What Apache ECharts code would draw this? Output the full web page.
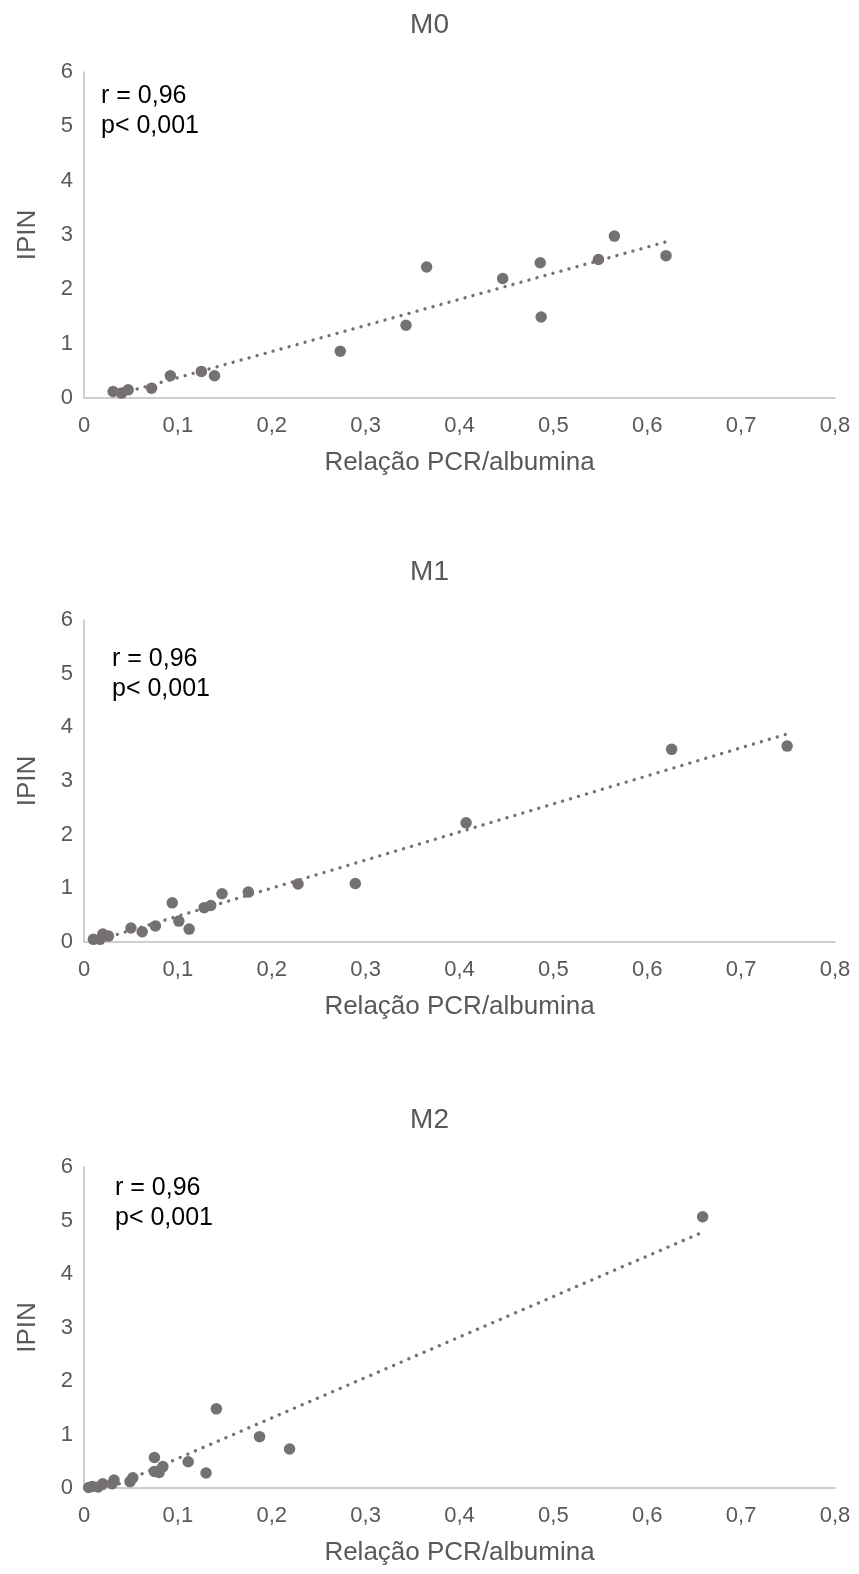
<!DOCTYPE html>
<html>
<head>
<meta charset="utf-8">
<script src="https://cdn.jsdelivr.net/npm/echarts@6/dist/echarts.min.js"></script>
<style>
  html, body { margin: 0; padding: 0; background: #fff; }
  #chart { width: 859px; height: 1574px; }
</style>
</head>
<body>
<div id="chart"></div>
<script>
// ---- data ----
const panelTitles = ['M0', 'M1', 'M2'];
const xAxisTitle = 'Relação PCR/albumina';
const yAxisTitle = 'IPIN';
const annotationLines = ['r = 0,96', 'p< 0,001'];
const xTickLabels = ['0', '0,1', '0,2', '0,3', '0,4', '0,5', '0,6', '0,7', '0,8'];
const yTickLabels = ['0', '1', '2', '3', '4', '5', '6'];

const m0X = [0.031, 0.040, 0.047, 0.072, 0.092, 0.125, 0.139, 0.273, 0.343, 0.365, 0.446, 0.486, 0.487, 0.548, 0.565, 0.620];
const m0Y = [0.12, 0.09, 0.15, 0.18, 0.41, 0.49, 0.41, 0.86, 1.34, 2.41, 2.20, 2.49, 1.49, 2.55, 2.98, 2.62];

const m1X = [0.010, 0.017, 0.020, 0.026, 0.050, 0.062, 0.076, 0.094, 0.101, 0.112, 0.128, 0.135, 0.147, 0.175, 0.228, 0.289, 0.407, 0.626, 0.749];
const m1Y = [0.05, 0.05, 0.15, 0.11, 0.26, 0.19, 0.30, 0.73, 0.39, 0.24, 0.64, 0.68, 0.90, 0.93, 1.08, 1.09, 2.22, 3.59, 3.65];

const m2X = [0.005, 0.009, 0.015, 0.020, 0.030, 0.032, 0.049, 0.052, 0.075, 0.075, 0.080, 0.084, 0.111, 0.130, 0.141, 0.187, 0.219, 0.659];
const m2Y = [0.01, 0.03, 0.02, 0.08, 0.08, 0.15, 0.12, 0.19, 0.57, 0.31, 0.29, 0.40, 0.49, 0.28, 1.48, 0.96, 0.73, 5.07];

// ---- layout / style ----
const FONT = '"Liberation Sans", Arial, sans-serif';
const GRAY_TEXT = '#595959';
const MARK = '#767171';
const AXIS = '#BFBFBF';

const panels = [
  { xs: m0X, ys: m0Y, top: 72, height: 326, titleTop: 6, annLeft: 101, annTop: 81 },
  { xs: m1X, ys: m1Y, top: 620, height: 322, titleTop: 553, annLeft: 112, annTop: 644 },
  { xs: m2X, ys: m2Y, top: 1167, height: 321, titleTop: 1101, annLeft: 115, annTop: 1173 }
];

function linearFit(xs, ys) {
  const n = xs.length;
  let sx = 0, sy = 0, sxx = 0, sxy = 0;
  for (let i = 0; i < n; i++) { sx += xs[i]; sy += ys[i]; sxx += xs[i] * xs[i]; sxy += xs[i] * ys[i]; }
  const b = (n * sxy - sx * sy) / (n * sxx - sx * sx);
  const a = (sy - b * sx) / n;
  const x0 = Math.min(...xs), x1 = Math.max(...xs);
  return [[x0, a + b * x0], [x1, a + b * x1]];
}

const option = {
  animation: false,
  backgroundColor: '#ffffff',
  title: [], grid: [], xAxis: [], yAxis: [], series: [], graphic: []
};

panels.forEach((p, i) => {
  option.title.push({
    text: panelTitles[i], left: 'center', top: p.titleTop,
    textStyle: { fontFamily: FONT, fontSize: 28, fontWeight: 'normal', color: GRAY_TEXT }
  });
  option.grid.push({ left: 84, width: 751, top: p.top, height: p.height });
  option.xAxis.push({
    type: 'value', gridIndex: i, min: 0, max: 0.8, interval: 0.1,
    name: xAxisTitle, nameLocation: 'middle', nameGap: 52,
    nameTextStyle: { fontFamily: FONT, fontSize: 26, color: GRAY_TEXT },
    axisLine: { show: true, onZero: false, lineStyle: { color: AXIS, width: 1.5 } },
    axisTick: { show: false }, splitLine: { show: false },
    axisLabel: {
      fontFamily: FONT, fontSize: 22, color: GRAY_TEXT, margin: 17,
      formatter: v => xTickLabels[Math.round(v * 10)]
    }
  });
  option.yAxis.push({
    type: 'value', gridIndex: i, min: 0, max: 6, interval: 1,
    name: yAxisTitle, nameLocation: 'middle', nameGap: 43, nameRotate: 90,
    nameTextStyle: { fontFamily: FONT, fontSize: 26, color: GRAY_TEXT },
    axisLine: { show: true, lineStyle: { color: AXIS, width: 1.5 } },
    axisTick: { show: false }, splitLine: { show: false },
    axisLabel: {
      fontFamily: FONT, fontSize: 22, color: GRAY_TEXT, margin: 11,
      formatter: v => yTickLabels[Math.round(v)]
    }
  });
  option.series.push({
    type: 'line', xAxisIndex: i, yAxisIndex: i,
    data: linearFit(p.xs, p.ys), showSymbol: false, symbol: 'none',
    lineStyle: { color: MARK, width: 3.3, type: [0.1, 8.2], cap: 'round' },
    z: 3, silent: true
  });
  option.series.push({
    type: 'scatter', xAxisIndex: i, yAxisIndex: i,
    data: p.xs.map((x, k) => [x, p.ys[k]]),
    symbol: 'circle', symbolSize: 11.5,
    itemStyle: { color: MARK, opacity: 1 }, z: 4
  });
  option.graphic.push({
    type: 'text', left: p.annLeft, top: p.annTop, z: 10,
    style: { text: annotationLines.join('\n'), font: '25px ' + FONT, fill: '#000000', lineHeight: 30 }
  });
});

const chart = echarts.init(document.getElementById('chart'), null, { renderer: 'canvas' });
chart.setOption(option);
</script>
</body>
</html>
